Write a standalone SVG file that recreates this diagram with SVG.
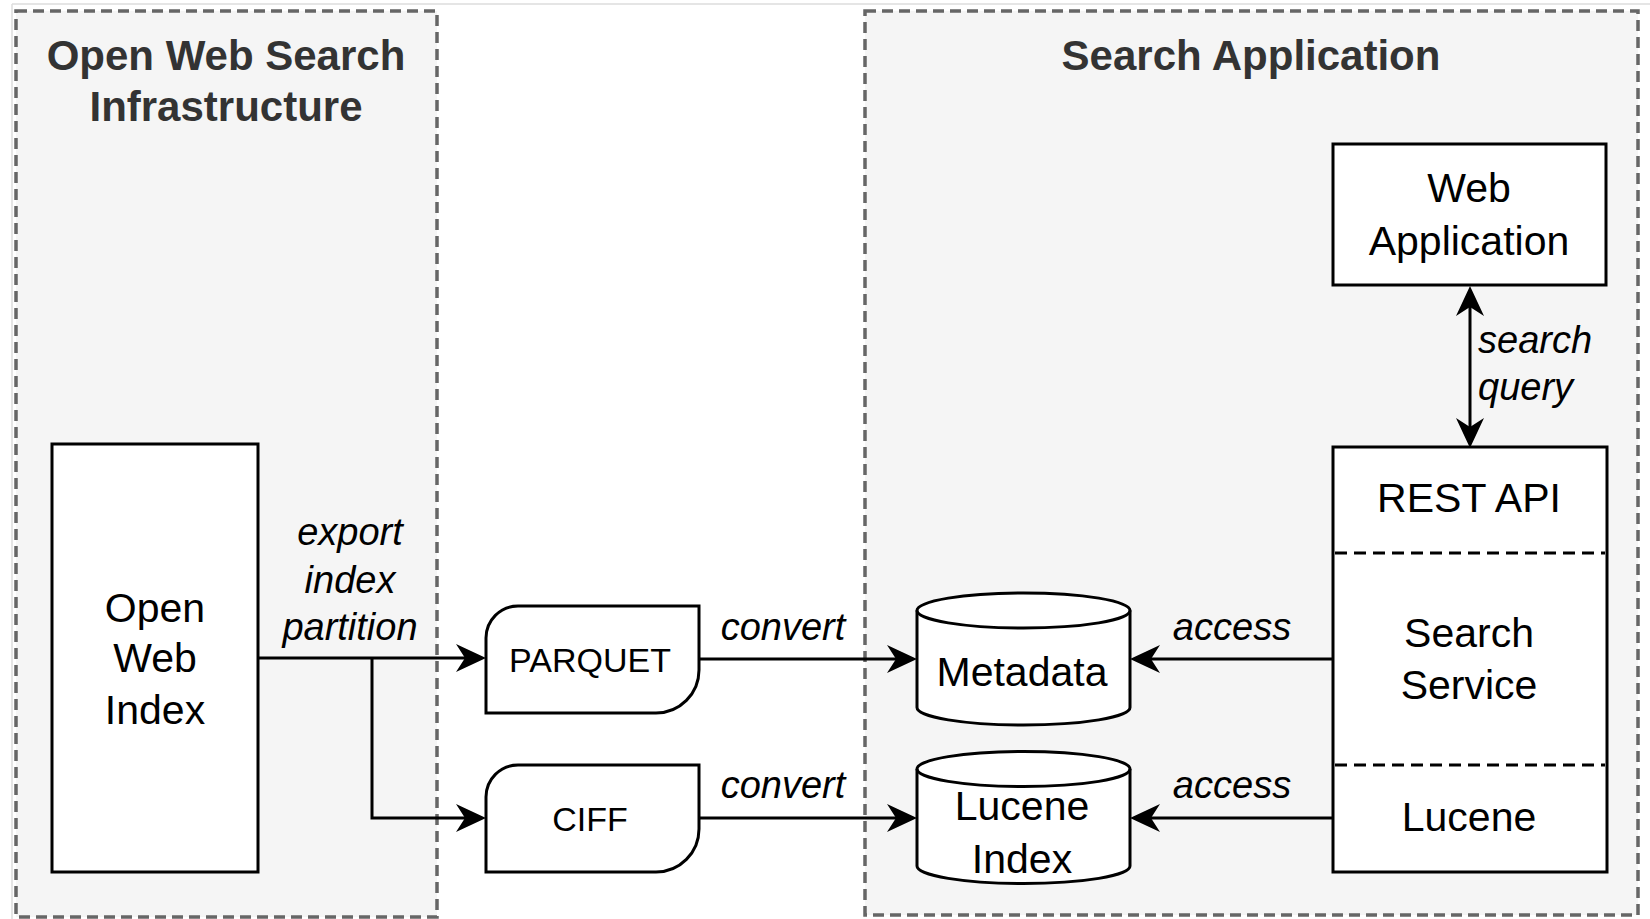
<svg xmlns="http://www.w3.org/2000/svg" width="1650" height="919" viewBox="0 0 1650 919">
<style>
.cont{fill:#f5f5f5;stroke:#666;stroke-width:3.5;stroke-dasharray:11 6}
.node{fill:#fff;stroke:#000;stroke-width:3}
.div{fill:none;stroke:#000;stroke-width:3;stroke-dasharray:12 7}
.edge{fill:none;stroke:#000;stroke-width:3}
.title{font-family:"Liberation Sans",Arial,sans-serif;font-weight:bold;font-size:42px;fill:#333;text-anchor:middle}
.t{font-family:"Liberation Sans",Arial,sans-serif;font-size:41px;fill:#000;text-anchor:middle}
.ts{font-family:"Liberation Sans",Arial,sans-serif;font-size:34px;fill:#000;text-anchor:middle}
.lbl{font-family:"Liberation Sans",Arial,sans-serif;font-style:italic;font-size:38px;fill:#000;text-anchor:middle}
.lbll{font-family:"Liberation Sans",Arial,sans-serif;font-style:italic;font-size:38px;fill:#000;text-anchor:start}
</style>
<defs>
<marker id="arr" markerUnits="userSpaceOnUse" markerWidth="30" markerHeight="30" viewBox="0 0 30 30" refX="9" refY="15" orient="auto-start-reverse">
<path d="M0,1 L30,15 L0,29 L9,15 Z" fill="#000"/>
</marker>
</defs>
<rect width="1650" height="919" fill="#fff"/>
<path d="M12,4 H1650 M12,4 V919" stroke="#ddd" stroke-width="1.5" fill="none"/>
<g id="container-owsi">
<rect class="cont" x="16" y="11" width="421" height="906"/>
<text class="title" x="226" y="70">Open Web Search</text>
<text class="title" x="226" y="121">Infrastructure</text>
</g>
<g id="container-searchapp">
<rect class="cont" x="865" y="11" width="773" height="904"/>
<text class="title" x="1251" y="70">Search Application</text>
</g>
<g id="connectors">
<path class="edge" d="M258,658 L465,658" marker-end="url(#arr)"/>
<path class="edge" d="M372,658 L372,818 L465,818" marker-end="url(#arr)"/>
<path class="edge" d="M699,659 L896,659" marker-end="url(#arr)"/>
<path class="edge" d="M699,818 L896,818" marker-end="url(#arr)"/>
<path class="edge" d="M1333,659 L1151,659" marker-end="url(#arr)"/>
<path class="edge" d="M1333,818 L1151,818" marker-end="url(#arr)"/>
<path class="edge" d="M1470,307 L1470,427" marker-start="url(#arr)" marker-end="url(#arr)"/>
<text class="lbl" x="350" y="545">export</text>
<text class="lbl" x="350" y="593">index</text>
<text class="lbl" x="350" y="640">partition</text>
<text class="lbl" x="783" y="640">convert</text>
<text class="lbl" x="783" y="798">convert</text>
<text class="lbl" x="1232" y="640">access</text>
<text class="lbl" x="1232" y="798">access</text>
<text class="lbll" x="1478" y="353">search</text>
<text class="lbll" x="1478" y="400">query</text>
</g>
<g id="open-web-index">
<rect class="node" x="52" y="444" width="206" height="428"/>
<text class="t" x="155" y="622">Open</text>
<text class="t" x="155" y="672">Web</text>
<text class="t" x="155" y="724">Index</text>
</g>
<g id="parquet">
<path class="node" d="M486,713 L486,638 A32,32 0 0 1 518,606 L699,606 L699,670 A43,43 0 0 1 656,713 Z"/>
<text class="ts" x="590" y="672">PARQUET</text>
</g>
<g id="ciff">
<path class="node" d="M486,872 L486,797 A32,32 0 0 1 518,765 L699,765 L699,829 A43,43 0 0 1 656,872 Z"/>
<text class="ts" x="590" y="831">CIFF</text>
</g>
<g id="metadata">
<path class="node" d="M917,610.5 A106.5,17.5 0 0 1 1130,610.5 L1130,707.5 A106.5,17.5 0 0 1 917,707.5 Z"/>
<path class="edge" d="M917,610.5 A106.5,17.5 0 0 0 1130,610.5"/>
<text class="t" x="1022" y="686">Metadata</text>
</g>
<g id="lucene-index">
<path class="node" d="M917,769 A106.5,17.5 0 0 1 1130,769 L1130,866 A106.5,17.5 0 0 1 917,866 Z"/>
<path class="edge" d="M917,769 A106.5,17.5 0 0 0 1130,769"/>
<text class="t" x="1022" y="820">Lucene</text>
<text class="t" x="1022" y="873">Index</text>
</g>
<g id="web-application">
<rect class="node" x="1333" y="144" width="273" height="141"/>
<text class="t" x="1469" y="202">Web</text>
<text class="t" x="1469" y="255">Application</text>
</g>
<g id="search-service">
<rect class="node" x="1333" y="447" width="274" height="425"/>
<path class="div" d="M1335,553 H1605 M1335,765 H1605"/>
<text class="t" x="1469" y="512">REST API</text>
<text class="t" x="1469" y="647">Search</text>
<text class="t" x="1469" y="699">Service</text>
<text class="t" x="1469" y="831">Lucene</text>
</g>
</svg>
